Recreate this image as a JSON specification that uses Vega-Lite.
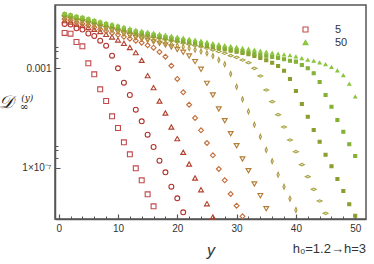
{
"$schema":"https://vega.github.io/schema/vega-lite/v6.json",
"width":311,"height":214,
"autosize":{"type":"none"},
"padding":{"left":55,"top":5,"right":8,"bottom":45},
"config":{"view":{"stroke":"#555","strokeWidth":1.5},"font":"Liberation Sans",
"axis":{"grid":false,"domainColor":"#555","domainWidth":1.5,"tickColor":"#555","labelColor":"#333","labelFont":"Liberation Sans","labelFontSize":10,"labelOverlap":false}},
"title":{"text":"h₀=1.2→h=3","orient":"bottom","anchor":"end","font":"Liberation Sans","fontSize":13,"fontWeight":"normal","color":"#333","offset":-15,"frame":"group"},
"resolve":{"axis":{"x":"independent"}},
"data":{"values":[
{"n":"5","p":1,"D":0.0264},{"n":"5","p":2,"D":0.0247},{"n":"5","p":3,"D":0.0114},{"n":"5","p":4,"D":0.00767},{"n":"5","p":5,"D":0.00159},{"n":"5","p":6,"D":5.74e-4},{"n":"5","p":7,"D":1.43e-4},{"n":"5","p":8,"D":4.83e-5},{"n":"5","p":9,"D":1.17e-5},{"n":"5","p":10,"D":3.96e-6},{"n":"5","p":11,"D":1.05e-6},{"n":"5","p":12,"D":3.46e-7},{"n":"5","p":13,"D":9.46e-8},{"n":"5","p":14,"D":3.11e-8},{"n":"5","p":15,"D":8.51e-9},{"n":"5","p":16,"D":2.8e-9},
{"n":"10","p":1,"D":0.0607},{"n":"10","p":2,"D":0.0579},{"n":"10","p":3,"D":0.0407},{"n":"10","p":4,"D":0.0364},{"n":"10","p":5,"D":0.0251},{"n":"10","p":6,"D":0.02},{"n":"10","p":7,"D":0.0129},{"n":"10","p":8,"D":0.00811},{"n":"10","p":9,"D":0.00321},{"n":"10","p":10,"D":0.001},{"n":"10","p":11,"D":2.64e-4},{"n":"10","p":12,"D":8.43e-5},{"n":"10","p":13,"D":2.16e-5},{"n":"10","p":14,"D":7.36e-6},{"n":"10","p":15,"D":2.13e-6},{"n":"10","p":16,"D":6.81e-7},{"n":"10","p":17,"D":1.91e-7},{"n":"10","p":18,"D":6.53e-8},{"n":"10","p":19,"D":1.72e-8},{"n":"10","p":20,"D":5.87e-9},{"n":"10","p":21,"D":1.6e-9},
{"n":"15","p":1,"D":0.0822},{"n":"15","p":2,"D":0.0729},{"n":"15","p":3,"D":0.0607},{"n":"15","p":4,"D":0.0527},{"n":"15","p":5,"D":0.0439},{"n":"15","p":6,"D":0.0371},{"n":"15","p":7,"D":0.0303},{"n":"15","p":8,"D":0.0233},{"n":"15","p":9,"D":0.0182},{"n":"15","p":10,"D":0.0138},{"n":"15","p":11,"D":0.0101},{"n":"15","p":12,"D":0.00687},{"n":"15","p":13,"D":0.00425},{"n":"15","p":14,"D":0.0021},{"n":"15","p":15,"D":5.04e-4},{"n":"15","p":16,"D":1.66e-4},{"n":"15","p":17,"D":4.83e-5},{"n":"15","p":18,"D":1.59e-5},{"n":"15","p":19,"D":4.35e-6},{"n":"15","p":20,"D":1.47e-6},{"n":"15","p":21,"D":4.17e-7},{"n":"15","p":22,"D":1.41e-7},{"n":"15","p":23,"D":3.85e-8},{"n":"15","p":24,"D":1.3e-8},{"n":"15","p":25,"D":3.56e-9},{"n":"15","p":26,"D":1.04e-9},
{"n":"20","p":1,"D":0.0964},{"n":"20","p":2,"D":0.0839},{"n":"20","p":3,"D":0.071},{"n":"20","p":4,"D":0.0624},{"n":"20","p":5,"D":0.0527},{"n":"20","p":6,"D":0.0447},{"n":"20","p":7,"D":0.0371},{"n":"20","p":8,"D":0.0317},{"n":"20","p":9,"D":0.0264},{"n":"20","p":10,"D":0.0223},{"n":"20","p":11,"D":0.0185},{"n":"20","p":12,"D":0.0155},{"n":"20","p":13,"D":0.0129},{"n":"20","p":14,"D":0.0107},{"n":"20","p":15,"D":0.00843},{"n":"20","p":16,"D":0.00675},{"n":"20","p":17,"D":0.00453},{"n":"20","p":18,"D":0.00293},{"n":"20","p":19,"D":0.00127},{"n":"20","p":20,"D":3.72e-4},{"n":"20","p":21,"D":1.08e-4},{"n":"20","p":22,"D":3.43e-5},{"n":"20","p":23,"D":1.0e-5},{"n":"20","p":24,"D":3.2e-6},{"n":"20","p":25,"D":9.86e-7},{"n":"20","p":26,"D":3.16e-7},{"n":"20","p":27,"D":8.87e-8},{"n":"20","p":28,"D":3.11e-8},{"n":"20","p":29,"D":8.75e-9},{"n":"20","p":30,"D":2.96e-9},{"n":"20","p":31,"D":1.11e-9},
{"n":"25","p":1,"D":0.111},{"n":"25","p":2,"D":0.0973},{"n":"25","p":3,"D":0.0832},{"n":"25","p":4,"D":0.0743},{"n":"25","p":5,"D":0.0635},{"n":"25","p":6,"D":0.0542},{"n":"25","p":7,"D":0.0455},{"n":"25","p":8,"D":0.0396},{"n":"25","p":9,"D":0.0335},{"n":"25","p":10,"D":0.0289},{"n":"25","p":11,"D":0.0242},{"n":"25","p":12,"D":0.0205},{"n":"25","p":13,"D":0.0173},{"n":"25","p":14,"D":0.0152},{"n":"25","p":15,"D":0.0134},{"n":"25","p":16,"D":0.0116},{"n":"25","p":17,"D":0.0101},{"n":"25","p":18,"D":0.00867},{"n":"25","p":19,"D":0.00719},{"n":"25","p":20,"D":0.00571},{"n":"25","p":21,"D":0.00441},{"n":"25","p":22,"D":0.00313},{"n":"25","p":23,"D":0.00185},{"n":"25","p":24,"D":9.12e-4},{"n":"25","p":25,"D":2.49e-4},{"n":"25","p":26,"D":8.43e-5},{"n":"25","p":27,"D":2.3e-5},{"n":"25","p":28,"D":7.78e-6},{"n":"25","p":29,"D":2.33e-6},{"n":"25","p":30,"D":7.67e-7},{"n":"25","p":31,"D":2.24e-7},{"n":"25","p":32,"D":7.57e-8},{"n":"25","p":33,"D":2.21e-8},{"n":"25","p":34,"D":7.48e-9},{"n":"25","p":35,"D":2.24e-9},
{"n":"30","p":1,"D":0.119},{"n":"30","p":2,"D":0.105},{"n":"30","p":3,"D":0.0893},{"n":"30","p":4,"D":0.0793},{"n":"30","p":5,"D":0.0678},{"n":"30","p":6,"D":0.0579},{"n":"30","p":7,"D":0.049},{"n":"30","p":8,"D":0.0426},{"n":"30","p":9,"D":0.0365},{"n":"30","p":10,"D":0.0316},{"n":"30","p":11,"D":0.0268},{"n":"30","p":12,"D":0.0229},{"n":"30","p":13,"D":0.0194},{"n":"30","p":14,"D":0.0172},{"n":"30","p":15,"D":0.0152},{"n":"30","p":16,"D":0.0135},{"n":"30","p":17,"D":0.012},{"n":"30","p":18,"D":0.0106},{"n":"30","p":19,"D":0.00944},{"n":"30","p":20,"D":0.00828},{"n":"30","p":21,"D":0.00727},{"n":"30","p":22,"D":0.00637},{"n":"30","p":23,"D":0.00556},{"n":"30","p":24,"D":0.00476},{"n":"30","p":25,"D":0.004},{"n":"30","p":26,"D":0.00313},{"n":"30","p":27,"D":0.00216},{"n":"30","p":28,"D":0.00145},{"n":"30","p":29,"D":5.9e-4},{"n":"30","p":30,"D":1.82e-4},{"n":"30","p":31,"D":5.66e-5},{"n":"30","p":32,"D":1.83e-5},{"n":"30","p":33,"D":5.38e-6},{"n":"30","p":34,"D":1.77e-6},{"n":"30","p":35,"D":5.15e-7},{"n":"30","p":36,"D":1.81e-7},{"n":"30","p":37,"D":5.24e-8},{"n":"30","p":38,"D":1.72e-8},{"n":"30","p":39,"D":5.66e-9},{"n":"30","p":40,"D":1.99e-9},
{"n":"35","p":1,"D":0.127},{"n":"35","p":2,"D":0.113},{"n":"35","p":3,"D":0.097},{"n":"35","p":4,"D":0.0878},{"n":"35","p":5,"D":0.0758},{"n":"35","p":6,"D":0.0653},{"n":"35","p":7,"D":0.0563},{"n":"35","p":8,"D":0.0495},{"n":"35","p":9,"D":0.0431},{"n":"35","p":10,"D":0.0377},{"n":"35","p":11,"D":0.0326},{"n":"35","p":12,"D":0.0281},{"n":"35","p":13,"D":0.0243},{"n":"35","p":14,"D":0.0219},{"n":"35","p":15,"D":0.0198},{"n":"35","p":16,"D":0.0179},{"n":"35","p":17,"D":0.0161},{"n":"35","p":18,"D":0.0144},{"n":"35","p":19,"D":0.0129},{"n":"35","p":20,"D":0.0116},{"n":"35","p":21,"D":0.0103},{"n":"35","p":22,"D":0.00924},{"n":"35","p":23,"D":0.00828},{"n":"35","p":24,"D":0.00736},{"n":"35","p":25,"D":0.00653},{"n":"35","p":26,"D":0.00553},{"n":"35","p":27,"D":0.00475},{"n":"35","p":28,"D":0.00402},{"n":"35","p":29,"D":0.00321},{"n":"35","p":30,"D":0.00277},{"n":"35","p":31,"D":0.00216},{"n":"35","p":32,"D":0.00168},{"n":"35","p":33,"D":0.001},{"n":"35","p":34,"D":4.9e-4},{"n":"35","p":35,"D":1.34e-4},{"n":"35","p":36,"D":4.53e-5},{"n":"35","p":37,"D":1.36e-5},{"n":"35","p":38,"D":4.35e-6},{"n":"35","p":39,"D":1.3e-6},{"n":"35","p":40,"D":4.41e-7},{"n":"35","p":41,"D":1.32e-7},{"n":"35","p":42,"D":4.35e-8},{"n":"35","p":43,"D":1.35e-8},{"n":"35","p":44,"D":4.57e-9},{"n":"35","p":45,"D":1.46e-9},
{"n":"40","p":1,"D":0.139},{"n":"40","p":2,"D":0.124},{"n":"40","p":3,"D":0.107},{"n":"40","p":4,"D":0.0973},{"n":"40","p":5,"D":0.0839},{"n":"40","p":6,"D":0.073},{"n":"40","p":7,"D":0.0629},{"n":"40","p":8,"D":0.0553},{"n":"40","p":9,"D":0.0482},{"n":"40","p":10,"D":0.0422},{"n":"40","p":11,"D":0.0364},{"n":"40","p":12,"D":0.0317},{"n":"40","p":13,"D":0.0274},{"n":"40","p":14,"D":0.0247},{"n":"40","p":15,"D":0.0223},{"n":"40","p":16,"D":0.0202},{"n":"40","p":17,"D":0.0182},{"n":"40","p":18,"D":0.0164},{"n":"40","p":19,"D":0.0149},{"n":"40","p":20,"D":0.0134},{"n":"40","p":21,"D":0.0121},{"n":"40","p":22,"D":0.0109},{"n":"40","p":23,"D":0.00988},{"n":"40","p":24,"D":0.00895},{"n":"40","p":25,"D":0.00801},{"n":"40","p":26,"D":0.00704},{"n":"40","p":27,"D":0.00638},{"n":"40","p":28,"D":0.00572},{"n":"40","p":29,"D":0.00515},{"n":"40","p":30,"D":0.00461},{"n":"40","p":31,"D":0.00413},{"n":"40","p":32,"D":0.00366},{"n":"40","p":33,"D":0.00313},{"n":"40","p":34,"D":0.0026},{"n":"40","p":35,"D":0.0021},{"n":"40","p":36,"D":0.00168},{"n":"40","p":37,"D":0.00124},{"n":"40","p":38,"D":8.0e-4},{"n":"40","p":39,"D":3.72e-4},{"n":"40","p":40,"D":1.22e-4},{"n":"40","p":41,"D":3.66e-5},{"n":"40","p":42,"D":1.13e-5},{"n":"40","p":43,"D":3.29e-6},{"n":"40","p":44,"D":1.11e-6},{"n":"40","p":45,"D":3.33e-7},{"n":"40","p":46,"D":1.14e-7},{"n":"40","p":47,"D":3.51e-8},{"n":"40","p":48,"D":1.16e-8},{"n":"40","p":49,"D":3.37e-9},{"n":"40","p":50,"D":1.17e-9},
{"n":"45","p":1,"D":0.153},{"n":"45","p":2,"D":0.136},{"n":"45","p":3,"D":0.118},{"n":"45","p":4,"D":0.107},{"n":"45","p":5,"D":0.093},{"n":"45","p":6,"D":0.0801},{"n":"45","p":7,"D":0.069},{"n":"45","p":8,"D":0.0607},{"n":"45","p":9,"D":0.0529},{"n":"45","p":10,"D":0.0463},{"n":"45","p":11,"D":0.0399},{"n":"45","p":12,"D":0.0348},{"n":"45","p":13,"D":0.03},{"n":"45","p":14,"D":0.0271},{"n":"45","p":15,"D":0.0245},{"n":"45","p":16,"D":0.0221},{"n":"45","p":17,"D":0.0199},{"n":"45","p":18,"D":0.018},{"n":"45","p":19,"D":0.0163},{"n":"45","p":20,"D":0.0147},{"n":"45","p":21,"D":0.0133},{"n":"45","p":22,"D":0.012},{"n":"45","p":23,"D":0.0108},{"n":"45","p":24,"D":0.0098},{"n":"45","p":25,"D":0.0088},{"n":"45","p":26,"D":0.00772},{"n":"45","p":27,"D":0.007},{"n":"45","p":28,"D":0.00632},{"n":"45","p":29,"D":0.00575},{"n":"45","p":30,"D":0.0052},{"n":"45","p":31,"D":0.00475},{"n":"45","p":32,"D":0.00432},{"n":"45","p":33,"D":0.0039},{"n":"45","p":34,"D":0.00353},{"n":"45","p":35,"D":0.00318},{"n":"45","p":36,"D":0.00288},{"n":"45","p":37,"D":0.0026},{"n":"45","p":38,"D":0.00232},{"n":"45","p":39,"D":0.00202},{"n":"45","p":40,"D":0.00185},{"n":"45","p":41,"D":0.00136},{"n":"45","p":42,"D":0.001},{"n":"45","p":43,"D":6.3e-4},{"n":"45","p":44,"D":2.81e-4},{"n":"45","p":45,"D":8.43e-5},{"n":"45","p":46,"D":2.85e-5},{"n":"45","p":47,"D":8.32e-6},{"n":"45","p":48,"D":2.81e-6},{"n":"45","p":49,"D":8.75e-7},{"n":"45","p":50,"D":2.96e-7},
{"n":"50","p":1,"D":0.163},{"n":"50","p":2,"D":0.146},{"n":"50","p":3,"D":0.127},{"n":"50","p":4,"D":0.116},{"n":"50","p":5,"D":0.101},{"n":"50","p":6,"D":0.0879},{"n":"50","p":7,"D":0.0764},{"n":"50","p":8,"D":0.0678},{"n":"50","p":9,"D":0.0596},{"n":"50","p":10,"D":0.0527},{"n":"50","p":11,"D":0.0459},{"n":"50","p":12,"D":0.04},{"n":"50","p":13,"D":0.0348},{"n":"50","p":14,"D":0.0317},{"n":"50","p":15,"D":0.0289},{"n":"50","p":16,"D":0.0264},{"n":"50","p":17,"D":0.024},{"n":"50","p":18,"D":0.0219},{"n":"50","p":19,"D":0.02},{"n":"50","p":20,"D":0.0182},{"n":"50","p":21,"D":0.0166},{"n":"50","p":22,"D":0.0151},{"n":"50","p":23,"D":0.0138},{"n":"50","p":24,"D":0.0126},{"n":"50","p":25,"D":0.0114},{"n":"50","p":26,"D":0.0101},{"n":"50","p":27,"D":0.00925},{"n":"50","p":28,"D":0.00843},{"n":"50","p":29,"D":0.00774},{"n":"50","p":30,"D":0.00706},{"n":"50","p":31,"D":0.0065},{"n":"50","p":32,"D":0.00598},{"n":"50","p":33,"D":0.00545},{"n":"50","p":34,"D":0.00497},{"n":"50","p":35,"D":0.00453},{"n":"50","p":36,"D":0.00413},{"n":"50","p":37,"D":0.00383},{"n":"50","p":38,"D":0.00352},{"n":"50","p":39,"D":0.00327},{"n":"50","p":40,"D":0.00293},{"n":"50","p":41,"D":0.00252},{"n":"50","p":42,"D":0.00216},{"n":"50","p":43,"D":0.00197},{"n":"50","p":44,"D":0.00168},{"n":"50","p":45,"D":0.00145},{"n":"50","p":46,"D":0.0011},{"n":"50","p":47,"D":8.0e-4},{"n":"50","p":48,"D":5.22e-4},{"n":"50","p":49,"D":2.33e-4},{"n":"50","p":50,"D":7.19e-5}
]},
"layer":[
{"mark":{"type":"point","filled":false,"strokeWidth":1.1,"opacity":1},
"encoding":{
"x":{"field":"p","type":"quantitative","scale":{"domain":[-0.62,51.82],"nice":false,"zero":false},
"axis":{"orient":"bottom","values":[0,10,20,30,40,50],"tickSize":-5,"tickWidth":1.2,"labelPadding":9,
"title":"y","titleFont":"Liberation Sans","titleFontStyle":"italic","titleFontSize":16,"titleFontWeight":"normal","titleColor":"#333","titleY":36,"titleBaseline":"alphabetic"}},
"y":{"field":"D","type":"quantitative","scale":{"type":"log","domain":[8.63e-10,0.352],"nice":false},
"axis":{"values":[0.0075,0.005,0.0025,0.001,7.5e-7,5e-7,2.5e-7,1e-7],
"labelExpr":"abs(datum.value-0.001)<1e-9 ? '0.001' : (abs(datum.value/1e-7-1)<1e-6 ? '1×10⁻⁷' : '')",
"labelOverlap":false,
"tickSize":{"condition":{"test":"abs(datum.value-0.001)<1e-9 || abs(datum.value/1e-7-1)<1e-6","value":-5},"value":-3},
"labelPadding":9,
"title":"𝒟","titleAngle":0,"titleX":-50,"titleY":97,"titleAlign":"center","titleBaseline":"middle","titleFont":"DejaVu Serif","titleFontSize":18,"titleFontStyle":"italic","titleFontWeight":"normal","titleColor":"#222"}},
"shape":{"field":"n","type":"nominal","scale":{"domain":["5","10","15","20","25","30","35","40","45","50"],"range":["square","circle","triangle-up","diamond","triangle-down","M0,-1L0.45,0L0,1L-0.45,0Z","M-1,0L0,-0.5L1,0L0,0.5Z","square","square","triangle-up"]},
"legend":{"values":["5","50"],"title":null,"orient":"top-right","offset":12,"padding":6,"labelOffset":24,"rowPadding":0,"clipHeight":13,"symbolSize":25,"labelFontSize":11,"labelColor":"#333","labelFont":"Liberation Sans","symbolStrokeWidth":1.1}},
"stroke":{"field":"n","type":"nominal","scale":{"domain":["5","10","15","20","25","30","35","40","45","50"],"range":["#c24a4c","#b2302c","#b3402e","#c2703e","#b57d34","#ae9840","#a6a23e","#8a9e2e","#84b034","#8cc63f"]},
"legend":{"values":["5","50"],"title":null,"orient":"top-right","offset":12,"padding":6,"labelOffset":24,"rowPadding":0,"clipHeight":13,"symbolSize":25,"labelFontSize":11,"labelColor":"#333","labelFont":"Liberation Sans","symbolStrokeWidth":1.1}},
"fill":{"field":"n","type":"nominal","scale":{"domain":["5","10","15","20","25","30","35","40","45","50"],"range":["transparent","transparent","transparent","transparent","transparent","transparent","transparent","#8a9e2e","#84b034","#8cc63f"]},
"legend":{"values":["5","50"],"title":null,"orient":"top-right","offset":12,"padding":6,"labelOffset":24,"rowPadding":0,"clipHeight":13,"symbolSize":25,"labelFontSize":11,"labelColor":"#333","labelFont":"Liberation Sans","symbolStrokeWidth":1.1}},
"size":{"condition":{"test":"datum.n=='40' || datum.n=='45' || datum.n=='50'","value":9},"value":24}
}},
{"data":{"values":[{}]},"mark":{"type":"text","text":"(y)","font":"DejaVu Serif","fontSize":9,"fontStyle":"italic","color":"#222","clip":false,"align":"center","baseline":"middle"},
"encoding":{"x":{"datum":-5.3,"axis":{"orient":"bottom","values":[2,4,6,8,12,14,16,18,22,24,26,28,32,34,36,38,42,44,46,48],"labels":false,"domain":false,"tickSize":-3,"tickWidth":1,"title":null,"grid":false}},"y":{"datum":6.2e-5}}},
{"data":{"values":[{}]},"mark":{"type":"text","text":"∞","font":"DejaVu Serif","fontSize":10,"color":"#222","clip":false,"align":"center","baseline":"middle"},
"encoding":{"x":{"datum":-5.8,"axis":null},"y":{"datum":2.85e-5}}}
]
}
